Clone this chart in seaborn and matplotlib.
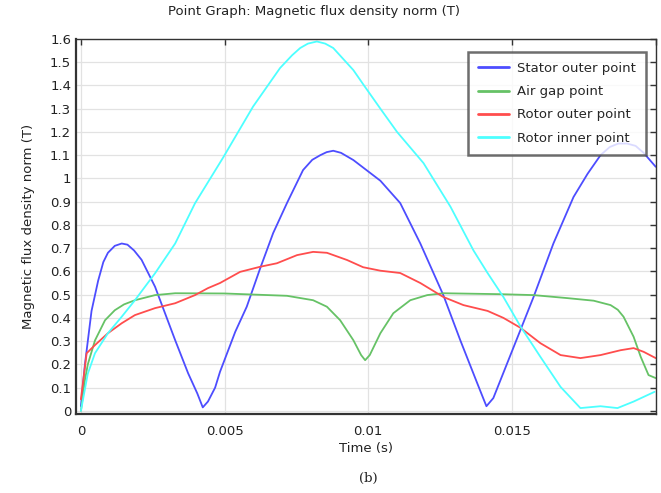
import pandas as pd
import seaborn as sns
import matplotlib.pyplot as plt
import numpy as np

# values (time in s, B in T)
stator_t = [0, 0.00014, 0.00037, 0.0006, 0.00078, 0.00094, 0.00118, 0.00142, 0.00162, 0.00185,
            0.00211, 0.00258, 0.00328, 0.00373, 0.00405, 0.00424, 0.00442, 0.00467, 0.00484,
            0.00537, 0.00577, 0.00624, 0.00669, 0.00717, 0.00773, 0.00805, 0.00833, 0.00855,
            0.00878, 0.00905, 0.00948, 0.01042, 0.01111, 0.01181, 0.01261, 0.0132, 0.01379,
            0.01398, 0.01411, 0.01435, 0.0153, 0.01575, 0.01644, 0.01714, 0.01763, 0.01808,
            0.0184, 0.0187, 0.019, 0.0193, 0.01958, 0.02]
stator_v = [0.02, 0.2, 0.43, 0.56, 0.64, 0.68, 0.71, 0.72, 0.715, 0.69,
            0.65, 0.534, 0.304, 0.162, 0.075, 0.015, 0.04, 0.10, 0.168,
            0.34, 0.448, 0.614, 0.765, 0.894, 1.036, 1.08, 1.10, 1.113,
            1.119, 1.11, 1.079, 0.99, 0.894, 0.72, 0.498, 0.304, 0.119,
            0.06, 0.02, 0.055, 0.35, 0.49, 0.72, 0.92, 1.02, 1.10,
            1.135, 1.15, 1.15, 1.14, 1.11, 1.05]

airgap_t = [0, 0.00014, 0.00024, 0.00049, 0.00084, 0.00118, 0.0015, 0.00188, 0.00258, 0.00328,
            0.005, 0.00717, 0.00808, 0.00856, 0.00902, 0.00948, 0.00975, 0.00989, 0.01005,
            0.01042, 0.01087, 0.01146, 0.01205, 0.01261, 0.0146, 0.01575, 0.01693, 0.01784,
            0.01843, 0.01868, 0.01888, 0.01923, 0.01948, 0.01975, 0.02]
airgap_v = [0.0, 0.132, 0.2, 0.303, 0.39, 0.433, 0.458, 0.476, 0.498, 0.506,
            0.505, 0.495, 0.476, 0.448, 0.39, 0.304, 0.24, 0.218, 0.24,
            0.334, 0.42, 0.476, 0.498, 0.506, 0.502, 0.498, 0.485, 0.474,
            0.455, 0.435, 0.405, 0.319, 0.232, 0.154, 0.141]

rotor_out_t = [0, 0.0002, 0.00049, 0.00094, 0.00142, 0.00188, 0.00258, 0.00328, 0.00397, 0.00442,
               0.00484, 0.00554, 0.00624, 0.00682, 0.00752, 0.00808, 0.00856, 0.00926, 0.00982,
               0.01042, 0.01111, 0.01181, 0.01261, 0.01331, 0.01415, 0.0147, 0.0153, 0.01599,
               0.01669, 0.01738, 0.01808, 0.01878, 0.01923, 0.01958, 0.02]
rotor_out_v = [0.05, 0.248, 0.283, 0.334, 0.377, 0.412, 0.442, 0.463, 0.498, 0.528,
               0.55, 0.598, 0.62, 0.635, 0.67, 0.684, 0.68, 0.649, 0.618,
               0.603, 0.593, 0.55, 0.49, 0.455, 0.43, 0.40, 0.357, 0.291,
               0.24, 0.227, 0.24, 0.261, 0.27, 0.254, 0.227]

rotor_in_t = [0, 0.00024, 0.00049, 0.00094, 0.00142, 0.00188, 0.00258, 0.00328, 0.00397, 0.00495,
              0.00599, 0.00693, 0.00735, 0.00763, 0.0079, 0.00821, 0.0085, 0.00878, 0.00948,
              0.00985, 0.01042, 0.011, 0.01192, 0.01286, 0.01366, 0.01415, 0.0147, 0.0153,
              0.01599, 0.01669, 0.01738, 0.01808, 0.01867, 0.01923, 0.01996]
rotor_in_v = [0.0, 0.16, 0.248, 0.334, 0.405, 0.476, 0.592, 0.72, 0.893, 1.09,
              1.309, 1.475, 1.53, 1.561, 1.58, 1.589, 1.58, 1.561, 1.466,
              1.40, 1.30, 1.2, 1.066, 0.878, 0.69, 0.593, 0.49, 0.362,
              0.232, 0.103, 0.012, 0.02, 0.012, 0.04, 0.082]

names = ['Stator outer point', 'Air gap point', 'Rotor outer point', 'Rotor inner point']
colors = ['#4d4dff', '#66c266', '#ff4d4d', '#4dffff']

frames = []
for name, t, v in zip(names, [stator_t, airgap_t, rotor_out_t, rotor_in_t],
                      [stator_v, airgap_v, rotor_out_v, rotor_in_v]):
    frames.append(pd.DataFrame({'t': t, 'B': v, 'series': name}))
df = pd.concat(frames, ignore_index=True)

sns.set_style('white')
plt.rcParams['font.family'] = ['DejaVu Sans']

fig = plt.figure(figsize=(6.61, 4.93), dpi=100)
ax = fig.add_axes([0.115, 0.160, 0.877, 0.761])

sns.lineplot(data=df, x='t', y='B', hue='series', hue_order=names,
             palette=dict(zip(names, colors)), estimator=None, sort=True,
             linewidth=1.3, ax=ax)

ax.set_xlim(-0.00017, 0.02)
ax.set_ylim(-0.014, 1.6)
yt = np.round(np.arange(0, 1.61, 0.1), 1)
ax.set_yticks(yt)
ax.set_yticklabels(['0' if y == 0 else ('1' if y == 1 else f'{y:g}') for y in yt])
ax.set_xticks([0, 0.005, 0.01, 0.015, 0.02])
ax.set_xticklabels(['0', '0.005', '0.01', '0.015', ''])
ax.grid(True, color='#e2e2e2', linewidth=0.9)
ax.tick_params(direction='in', top=True, right=True, length=4, width=1,
               colors='#333333', labelsize=9.5, labelcolor='#222222')
ax.tick_params(axis='x', pad=8)
for s in ax.spines.values():
    s.set_color('#333333')
    s.set_linewidth(1.0)
ax.spines['left'].set_linewidth(1.6)
ax.spines['bottom'].set_linewidth(1.6)

ax.set_xlabel('Time (s)', fontsize=9.5, color='#222222', labelpad=3)
ax.set_ylabel('Magnetic flux density norm (T)', fontsize=9.5, color='#222222', labelpad=11)

fig.text(314 / 661, 1 - 12 / 493, 'Point Graph: Magnetic flux density norm (T)',
         ha='center', va='center', fontsize=9.5, color='#222222')
fig.text(368 / 661, 1 - 478 / 493, '(b)', ha='center', va='center',
         fontsize=9.5, family='DejaVu Serif', color='#222222')

leg = ax.legend(loc='upper right', bbox_to_anchor=(646 / 661, 1 - 52 / 493),
                bbox_transform=fig.transFigure, fontsize=9.5, frameon=True,
                fancybox=False, shadow=False, handlelength=2.4, labelspacing=0.78,
                borderpad=0.75, handletextpad=0.6, borderaxespad=0)
leg.get_frame().set_edgecolor('#4a4a4a')
leg.get_frame().set_linewidth(1.8)
for line in leg.get_lines():
    line.set_linewidth(2.0)

fig.savefig('out.png', dpi=100)
